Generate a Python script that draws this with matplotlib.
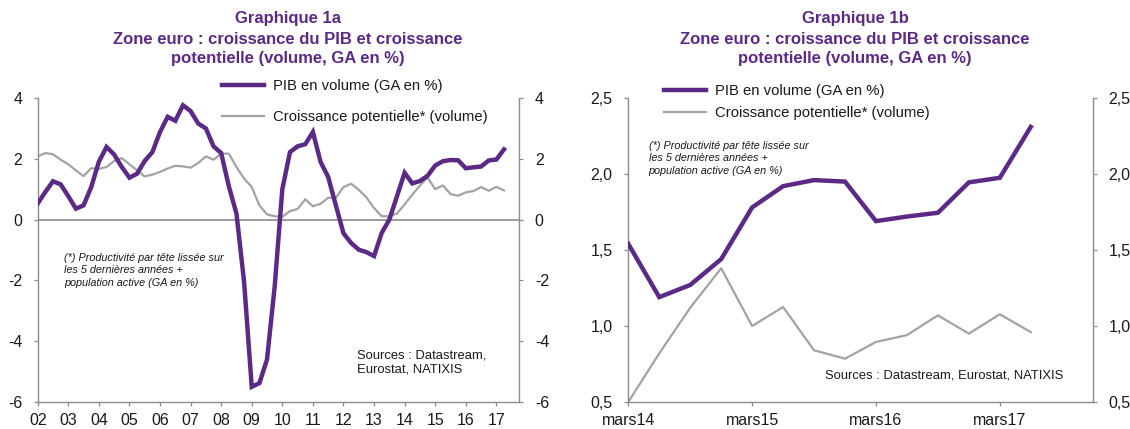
import matplotlib
matplotlib.use("Agg")
import matplotlib.pyplot as plt
from matplotlib import font_manager
import pandas as pd

# --- data (GA en %, trimestriel) ---
quarters = pd.period_range("2002Q1", "2017Q2", freq="Q")
pib = [0.53, 0.91, 1.26, 1.16,
       0.77, 0.36, 0.47, 1.07,
       1.90, 2.39, 2.14, 1.73,
       1.38, 1.51, 1.93, 2.22,
       2.88, 3.38, 3.25, 3.76,
       3.57, 3.16, 3.00, 2.41,
       2.19, 1.10, 0.20, -2.05,
       -5.50, -5.38, -4.60, -2.20,
       1.00, 2.22, 2.41, 2.48,
       2.88, 1.90, 1.40, 0.47,
       -0.45, -0.77, -0.99, -1.07,
       -1.20, -0.44, 0.00, 0.77,
       1.54, 1.19, 1.27, 1.44,
       1.78, 1.92, 1.96, 1.95,
       1.69, 1.72, 1.745, 1.945,
       1.975, 2.31]
potentiel = [2.08, 2.19, 2.15, 1.97,
             1.82, 1.62, 1.43, 1.69,
             1.67, 1.73, 1.93, 2.02,
             1.82, 1.62, 1.42, 1.48,
             1.57, 1.68, 1.77, 1.75,
             1.71, 1.86, 2.08, 1.97,
             2.17, 2.17, 1.73, 1.35,
             1.07, 0.47, 0.17, 0.11,
             0.09, 0.28, 0.35, 0.67,
             0.44, 0.52, 0.72, 0.72,
             1.07, 1.18, 0.98, 0.73,
             0.38, 0.11, 0.11, 0.20,
             0.50, 0.82, 1.12, 1.38,
             1.00, 1.125, 0.84, 0.785,
             0.895, 0.94, 1.07, 0.95,
             1.077, 0.96]

years_a = list(range(2002, 2018))
labels_a = ["%02d" % (y % 100) for y in years_a]
years_b = [2014, 2015, 2016, 2017]
labels_b = ["mars14", "mars15", "mars16", "mars17"]
start_b = "2014Q1"

title_lines_a = ["Graphique 1a", "Zone euro : croissance du PIB et croissance",
                 "potentielle (volume, GA en %)"]
title_lines_b = ["Graphique 1b", "Zone euro : croissance du PIB et croissance",
                 "potentielle (volume, GA en %)"]
lbl_pib = "PIB en volume (GA en %)"
lbl_pot = "Croissance potentielle* (volume)"
note = "(*) Productivité par tête lissée sur\nles 5 dernières années +\npopulation active (GA en %)"

PURPLE = "#5b2a86"
GREY = "#a3a3a3"
AXIS = "#8c8c8c"
TXT = "#1a1a1a"

plt.rcParams["font.family"] = ["Liberation Sans", "DejaVu Sans"]
plt.rcParams["axes.unicode_minus"] = False
names = {f.name for f in font_manager.fontManager.ttflist}
title_font = ["Liberation Sans Narrow", "Liberation Sans"] if "Liberation Sans Narrow" in names else ["Liberation Sans"]

x = [q.year + (q.quarter - 1) / 4 for q in quarters]
ib = list(quarters.astype(str)).index(start_b)

W, H = 1130, 429
fig = plt.figure(figsize=(W / 100, H / 100), dpi=100)


def px(xp, yp):
    return xp / W, 1 - yp / H


def style(ax, ticks, labels):
    for s in ("left", "right", "bottom"):
        ax.spines[s].set_color(AXIS)
        ax.spines[s].set_linewidth(1)
    ax.spines["top"].set_visible(False)
    ax.set_xticks(ticks)
    ax.set_xticklabels(labels)
    ax.tick_params(axis="both", direction="out", length=3.2, width=0.9, color=AXIS,
                   labelsize=11.5, labelcolor=TXT, pad=8)
    ax.tick_params(axis="x", pad=4.5)
    ax.tick_params(axis="y", left=True, right=True, labelleft=True, labelright=True)


# --- graphique 1a ---
axa = fig.add_axes([37.7 / W, 1 - 402 / H, (519.3 - 37.7) / W, 304 / H])
axa.axhline(0, color=AXIS, lw=1.2, zorder=1)
axa.plot(x, potentiel, color=GREY, lw=1.6, zorder=2, label=lbl_pot)
axa.plot(x, pib, color=PURPLE, lw=3.2, zorder=3, solid_joinstyle="miter", label=lbl_pib)
axa.set_xlim(2002, 2017.75)
axa.set_ylim(-6, 4)
axa.set_yticks([-6, -4, -2, 0, 2, 4])
style(axa, years_a, labels_a)
h, l = axa.get_legend_handles_labels()
axa.legend(h[::-1], l[::-1], loc="upper left", bbox_to_anchor=px(222, 79),
           bbox_transform=fig.transFigure, frameon=False,
           fontsize=10.7, handlelength=2.8, handletextpad=0.6, labelspacing=1.15,
           borderpad=0, borderaxespad=0, labelcolor=TXT)
fig.text(*px(64, 253), note, fontsize=7.8, style="italic", color=TXT, va="top",
         linespacing=1.3)
fig.text(*px(357, 350), "Sources : Datastream,\nEurostat, NATIXIS", fontsize=9.4,
         color=TXT, va="top", linespacing=1.15)

# --- graphique 1b ---
axb = fig.add_axes([628.3 / W, 1 - 402 / H, (1092.7 - 628.3) / W, 304 / H])
axb.plot(x[ib:], potentiel[ib:], color=GREY, lw=1.6, zorder=2, label=lbl_pot)
axb.plot(x[ib:], pib[ib:], color=PURPLE, lw=3.2, zorder=3, solid_joinstyle="miter", label=lbl_pib)
axb.set_xlim(2014, 2017.75)
axb.set_ylim(0.5, 2.5)
axb.set_yticks([0.5, 1.0, 1.5, 2.0, 2.5])
axb.yaxis.set_major_formatter(matplotlib.ticker.FuncFormatter(lambda v, p: ("%.1f" % v).replace(".", ",")))
style(axb, years_b, labels_b)
h, l = axb.get_legend_handles_labels()
axb.legend(h[::-1], l[::-1], loc="upper left", bbox_to_anchor=px(664, 84),
           bbox_transform=fig.transFigure, frameon=False,
           fontsize=10.7, handlelength=2.8, handletextpad=0.6, labelspacing=0.55,
           borderpad=0, borderaxespad=0, labelcolor=TXT)
fig.text(*px(648.6, 141), note, fontsize=7.8, style="italic", color=TXT, va="top",
         linespacing=1.3)
fig.text(*px(825, 376), "Sources : Datastream, Eurostat, NATIXIS", fontsize=9.4,
         color=TXT, va="center")

# --- titres ---
for cx, lines in ((288, title_lines_a), (855, title_lines_b)):
    for yy, t in zip((18, 39, 59), lines):
        fig.text(*px(cx, yy), t, ha="center", va="center", fontsize=12,
                 fontweight="bold", color=PURPLE, family=title_font)

fig.savefig("out.png", dpi=100)
